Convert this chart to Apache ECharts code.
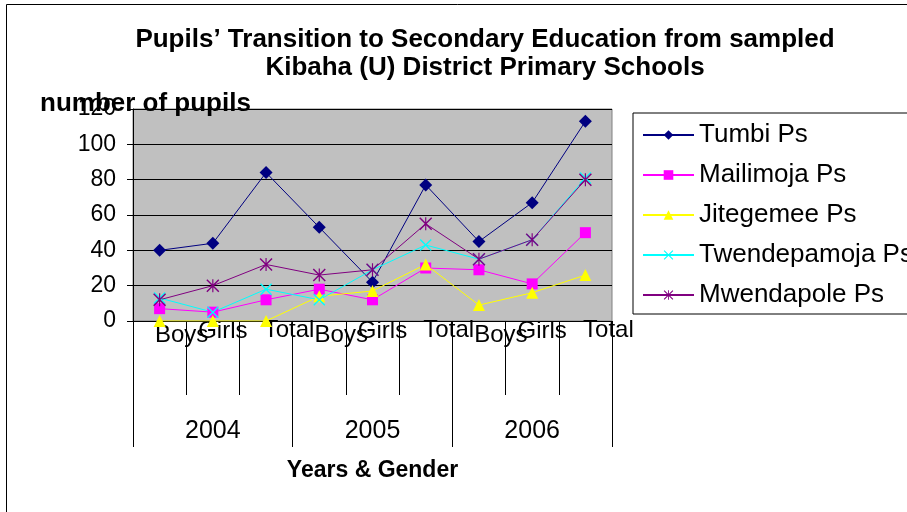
<!DOCTYPE html>
<html>
<head>
<meta charset="utf-8">
<title>Pupils' Transition to Secondary Education</title>
<script src="https://cdn.jsdelivr.net/npm/echarts@6/dist/echarts.min.js"></script>
<style>
  html, body { margin: 0; padding: 0; background: #fff; }
  #chart { width: 907px; height: 512px; }
</style>
</head>
<body>
<div id="chart"></div>
<script>
// categories
const genders = ['Boys', 'Girls', 'Total', 'Boys', 'Girls', 'Total', 'Boys', 'Girls', 'Total']
const years = ['2004', '2005', '2006']
const yTicks = [0, 20, 40, 60, 80, 100, 120]

// pupils per school
const tumbi = [40, 44, 84, 53, 22, 77, 45, 67, 113]
const mailimoja = [7, 5, 12, 18, 12, 30, 29, 21, 50]
const jitegemee = [0, 0, 0, 14, 17, 32, 9, 16, 26]
const twendepamoja = [13, 5, 18, 12, 29, 43, 35, 46, 81]
const mwendapole = [12, 20, 32, 26, 29, 55, 35, 46, 80]

const FONT = "'Liberation Sans', Arial, sans-serif"

// x and asterisk markers (filled thin bars)
const crossPath = 'path://M0,0.8L0.8,0L10,9.2L9.2,10Z M9.2,0L10,0.8L0.8,10L0,9.2Z'
const starPath = 'path://M0,0.8L0.8,0L10,9.2L9.2,10Z M9.2,0L10,0.8L0.8,10L0,9.2Z M4.55,0L5.45,0L5.45,10L4.55,10Z'

function lineSeries(name, data, color, symbol, size) {
  return {
    name: name,
    type: 'line',
    data: data,
    symbol: symbol,
    symbolSize: size,
    color: color,
    lineStyle: { color: color, width: 1 },
    itemStyle: { color: color },
    emphasis: { disabled: true },
    animation: false
  }
}

const chart = echarts.init(document.getElementById('chart'))

const option = {
  backgroundColor: '#ffffff',
  animation: false,
  textStyle: { fontFamily: FONT },
  title: {
    text: 'Pupils\u2019 Transition to Secondary Education from sampled\nKibaha (U) District Primary Schools',
    left: 480,
    top: 21,
    textAlign: 'center',
    textStyle: {
      fontFamily: FONT,
      fontSize: 26,
      fontWeight: 'bold',
      color: '#000',
      lineHeight: 28,
      align: 'center'
    }
  },
  graphic: [
    {
      // outer frame of the chart object
      type: 'rect',
      shape: { x: 6.5, y: 4.5, width: 1000, height: 600 },
      style: { fill: 'none', stroke: '#000', lineWidth: 1 },
      silent: true
    },
    {
      type: 'text',
      left: 40,
      top: 91,
      style: {
        text: 'number of pupils',
        font: 'bold 26px ' + FONT,
        fill: '#000'
      },
      z: 10
    }
  ],
  legend: {
    orient: 'vertical',
    left: 633,
    top: 113,
    padding: [9, 10, 6, 9],
    itemGap: 14,
    itemWidth: 51,
    itemHeight: 12,
    borderColor: '#000',
    borderWidth: 1,
    backgroundColor: '#fff',
    textStyle: { fontFamily: FONT, fontSize: 26, color: '#000', lineHeight: 26 },
    data: ['Tumbi Ps', 'Mailimoja Ps', 'Jitegemee Ps', 'Twendepamoja Ps', 'Mwendapole Ps']
  },
  grid: {
    left: 133,
    right: 295,
    top: 109,
    bottom: 191,
    show: true,
    backgroundColor: '#c0c0c0',
    borderColor: '#808080',
    borderWidth: 1
  },
  xAxis: [
    {
      type: 'category',
      data: genders,
      boundaryGap: true,
      position: 'bottom',
      axisLine: { show: true, lineStyle: { color: '#000', width: 1 } },
      axisTick: { show: true, length: 74, interval: 0, lineStyle: { color: '#000' } },
      axisLabel: {
        interval: 0,
        hideOverlap: false,
        margin: -3,
        fontFamily: FONT,
        fontSize: 24,
        color: '#000',
        formatter: function (v) {
          if (v === 'Boys') return '{b|Boys}'
          if (v === 'Girls') return '{g|Girls}'
          return '{t|Total}'
        },
        // labels sit a little right of the category centres, as in the original
        rich: {
          b: { fontFamily: FONT, fontSize: 24, color: '#000', padding: [5, 0, 0, 44] },
          g: { fontFamily: FONT, fontSize: 24, color: '#000', padding: [1, 0, 0, 20] },
          t: { fontFamily: FONT, fontSize: 24, color: '#000', padding: [0, 0, 0, 46] }
        }
      },
      splitLine: { show: false }
    },
    {
      type: 'category',
      data: years,
      boundaryGap: true,
      position: 'bottom',
      axisLine: { show: false },
      axisTick: { show: true, length: 126, interval: 0, lineStyle: { color: '#000' } },
      axisLabel: {
        interval: 0,
        margin: 98,
        fontFamily: FONT,
        fontSize: 25,
        color: '#000'
      },
      name: 'Years & Gender',
      nameLocation: 'middle',
      nameGap: 138,
      nameTextStyle: { fontFamily: FONT, fontSize: 23, fontWeight: 'bold', color: '#000' },
      splitLine: { show: false }
    }
  ],
  yAxis: {
    type: 'value',
    min: yTicks[0],
    max: yTicks[yTicks.length - 1],
    interval: 20,
    axisLine: { show: true, lineStyle: { color: '#000', width: 1 } },
    axisTick: { show: true, length: 6, lineStyle: { color: '#000' } },
    axisLabel: { margin: 17, fontFamily: FONT, fontSize: 23, color: '#000' },
    splitLine: { show: true, lineStyle: { color: '#000', width: 1 } }
  },
  series: [
    lineSeries('Tumbi Ps', tumbi, '#000080', 'diamond', 13),
    lineSeries('Mailimoja Ps', mailimoja, '#ff00ff', 'rect', 11),
    lineSeries('Jitegemee Ps', jitegemee, '#ffff00', 'triangle', 12),
    lineSeries('Twendepamoja Ps', twendepamoja, '#00ffff', crossPath, 12),
    lineSeries('Mwendapole Ps', mwendapole, '#800080', starPath, 13)
  ]
}

chart.setOption(option)
</script>
</body>
</html>
